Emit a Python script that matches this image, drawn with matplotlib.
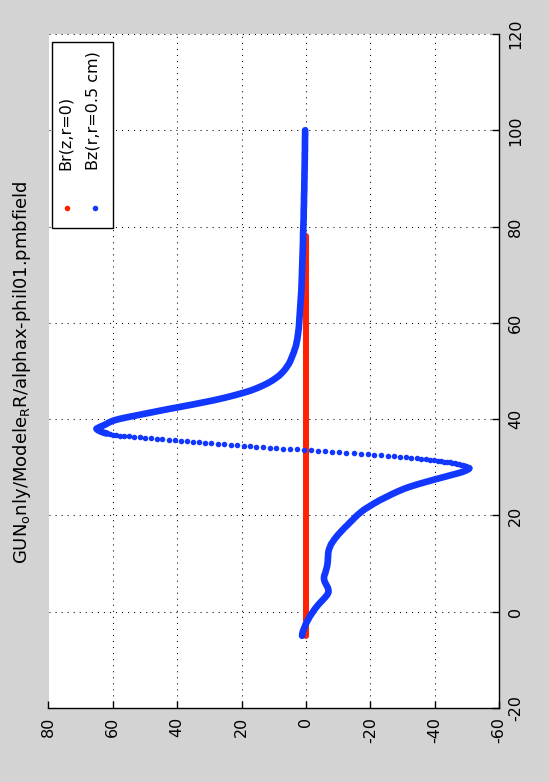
import numpy as np
import matplotlib
matplotlib.use("Agg")
import matplotlib.pyplot as plt
from matplotlib.patches import Rectangle
from matplotlib.lines import Line2D

# Br(z, r=0): zero along the axis
br_z = list(range(-5, 79))
br_val = [0.0] * len(br_z)

# Bz(r, r=0.5 cm) read along z, denser where the field changes fast
bz_z_a = [-5.0, -4.5, -4.0, -3.5, -3.0, -2.5, -2.0, -1.5, -1.0, -0.5,
          0.0, 0.5, 1.0, 1.5, 2.0, 2.5, 3.0, 3.5, 4.0, 4.5,
          5.0, 5.5, 6.0, 6.5, 7.0, 7.5, 8.0, 8.5, 9.0, 9.5,
          10.0, 10.5, 11.0, 11.5, 12.0, 12.5, 13.0, 13.5, 14.0, 14.5,
          15.0, 15.5, 16.0, 16.5, 17.0, 17.5, 18.0, 18.5, 19.0, 19.5, 20.0]
bz_a = [1.2, 1.1, 0.9, 0.6, 0.3, 0.0, -0.4, -0.8, -1.2, -1.7,
        -2.2, -2.7, -3.3, -3.9, -4.6, -5.3, -6.0, -6.6, -7.0, -7.0,
        -6.8, -6.4, -6.0, -5.7, -5.6, -5.7, -6.0, -6.2, -6.4, -6.6,
        -6.7, -6.8, -6.8, -6.9, -6.9, -7.0, -7.2, -7.5, -7.8, -8.3,
        -8.8, -9.4, -10.0, -10.7, -11.4, -12.1, -12.9, -13.6, -14.4, -15.1, -15.9]

bz_z_b = [20.25, 20.5, 20.75, 21.0, 21.25, 21.5, 21.75, 22.0, 22.25, 22.5,
          22.75, 23.0, 23.25, 23.5, 23.75, 24.0, 24.25, 24.5, 24.75, 25.0,
          25.25, 25.5, 25.75, 26.0, 26.25, 26.5, 26.75, 27.0, 27.25, 27.5,
          27.75, 28.0, 28.25, 28.5, 28.75, 29.0, 29.25, 29.5, 29.6, 29.7, 29.8]
bz_b = [-16.3, -16.8, -17.2, -17.7, -18.2, -18.8, -19.4, -20.0, -20.6, -21.2,
        -21.9, -22.5, -23.2, -24.0, -24.7, -25.5, -26.2, -27.0, -27.8, -28.6,
        -29.5, -30.4, -31.4, -32.5, -33.7, -34.9, -36.2, -37.5, -38.9, -40.2,
        -41.6, -43.0, -44.4, -45.8, -47.2, -48.5, -49.5, -50.2, -50.5, -50.7, -50.8]

# fast swing through zero: samples stand apart here
bz_z_c = [29.9, 30.0, 30.1, 30.2, 30.3, 30.4, 30.5,
          30.6, 30.7, 30.8, 30.9, 31.0, 31.1, 31.2, 31.3, 31.4, 31.5,
          31.6, 31.7, 31.8, 31.9, 32.0, 32.1, 32.2, 32.3, 32.4, 32.5,
          32.6, 32.7, 32.8, 32.9, 33.0, 33.1, 33.2, 33.3, 33.4, 33.5,
          33.6, 33.7, 33.8, 33.9, 34.0, 34.1, 34.2, 34.3, 34.4, 34.5,
          34.6, 34.7, 34.8, 34.9, 35.0, 35.1, 35.2, 35.3, 35.4, 35.5,
          35.6, 35.7, 35.8, 35.9, 36.0, 36.1, 36.2, 36.3, 36.4, 36.5,
          36.6, 36.7, 36.8, 36.9]
bz_c = [-50.7, -50.5, -50.2, -49.8, -49.3, -48.8, -48.2,
        -47.6, -46.9, -46.2, -45.5, -44.7, -43.9, -43.0, -42.0, -40.9, -39.8,
        -38.6, -37.3, -35.9, -34.4, -32.8, -31.1, -29.3, -27.4, -25.4, -23.4,
        -21.3, -19.2, -17.0, -14.8, -12.6, -10.4, -8.2, -6.0, -3.8, -1.6,
        0.6, 2.8, 5.0, 7.1, 9.2, 11.3, 13.4, 15.4, 17.4, 19.4,
        21.4, 23.4, 25.4, 27.4, 29.4, 31.3, 33.2, 35.1, 37.0, 38.9,
        40.8, 42.7, 44.6, 46.4, 48.2, 50.0, 51.7, 53.4, 55.0, 56.5,
        57.9, 59.1, 60.1, 61.0]

bz_z_d = [37.0, 37.1, 37.2, 37.3, 37.4, 37.5, 37.6, 37.7, 37.8, 37.9, 38.0,
          38.2, 38.4, 38.6, 38.8, 39.0, 39.2, 39.4, 39.6, 39.8, 40.0,
          40.2, 40.4, 40.6, 40.8, 41.0, 41.2, 41.4, 41.6, 41.8, 42.0,
          42.2, 42.4, 42.6, 42.8, 43.0, 43.2, 43.4, 43.6, 43.8, 44.0,
          44.2, 44.4, 44.6, 44.8, 45.0, 45.2, 45.4, 45.6, 45.8, 46.0]
bz_d = [61.8, 62.4, 62.9, 63.3, 63.7, 64.0, 64.3, 64.6, 64.8, 65.0, 65.1,
        64.6, 64.0, 63.3, 62.6, 62.0, 61.5, 60.9, 60.2, 59.3, 58.2,
        56.9, 55.5, 54.0, 52.5, 51.0, 49.5, 48.0, 46.5, 45.0, 43.5,
        41.9, 40.3, 38.7, 37.1, 35.5, 34.0, 32.5, 31.0, 29.5, 28.1,
        26.8, 25.5, 24.3, 23.1, 22.0, 20.9, 19.8, 18.8, 17.8, 16.9]

bz_z_e = [46.5, 47.0, 47.5, 48.0, 48.5, 49.0, 49.5, 50.0, 50.5, 51.0,
          51.5, 52.0, 52.5, 53.0, 53.5, 54.0, 54.5, 55.0, 55.5, 56.0,
          56.5, 57.0, 57.5, 58.0, 58.5, 59.0, 59.5, 60.0]
bz_e = [15.0, 13.3, 11.8, 10.5, 9.4, 8.4, 7.6, 6.9, 6.3, 5.8,
        5.3, 4.9, 4.6, 4.3, 4.0, 3.7, 3.5, 3.2, 3.0, 2.9,
        2.7, 2.6, 2.5, 2.4, 2.3, 2.2, 2.15, 2.1]

bz_z_f = [61, 62, 63, 64, 65, 66, 67, 68, 69, 70,
          71, 72, 73, 74, 75, 76, 77, 78, 79, 80,
          81, 82, 83, 84, 85, 86, 87, 88, 89, 90,
          91, 92, 93, 94, 95, 96, 97, 98, 99, 100]
bz_f = [2.0, 1.9, 1.8, 1.7, 1.6, 1.5, 1.4, 1.35, 1.3, 1.25,
        1.2, 1.15, 1.1, 1.05, 1.0, 0.95, 0.9, 0.9, 0.85, 0.8,
        0.75, 0.7, 0.7, 0.65, 0.6, 0.6, 0.55, 0.5, 0.5, 0.45,
        0.45, 0.4, 0.4, 0.35, 0.35, 0.3, 0.3, 0.3, 0.25, 0.25]

b_ticks = [-60, -40, -20, 0, 20, 40, 60, 80]
z_ticks = [-20, 0, 20, 40, 60, 80, 100, 120]
title = r"GUN$_{\mathrm{o}}$nly/Modele$_{\mathrm{R}}$R/alphax-phil01.pmbfield"

RED = '#ff2200'
BLUE = '#1238ff'

plt.rcParams['font.family'] = ['DejaVu Sans']
plt.rcParams['mathtext.fontset'] = 'dejavusans'
plt.rcParams['axes.unicode_minus'] = False

W, H = 549, 782
fig = plt.figure(figsize=(W / 100, H / 100), dpi=100, facecolor='#d3d3d3')
# plot is drawn turned on its side: z runs upward, B runs right-to-left
ax = fig.add_axes([48.5 / W, 1 - 708 / H, 450.5 / W, 674 / H])
ax.set_facecolor('white')

# densely sampled dots merge into a thick trace
dense = dict(solid_capstyle='round', solid_joinstyle='round', zorder=4)
ax.plot(br_val, br_z, '-', color=RED, lw=4.3, **dict(dense, zorder=3))
ax.plot(bz_a + bz_b, bz_z_a + bz_z_b, '-', color=BLUE, lw=4.8, **dense)
ax.plot(bz_c, bz_z_c, 'o', color=BLUE, ms=4.0, mec='none', zorder=4)
ax.plot(bz_d + bz_e + bz_f, bz_z_d + bz_z_e + bz_z_f, '-', color=BLUE,
        lw=4.8, **dense)

ax.set_xlim(80, -60)
ax.set_ylim(-20, 120)
ax.set_xticks(b_ticks)
ax.set_yticks(z_ticks)
ax.yaxis.tick_right()
ax.tick_params(axis='both', direction='in', length=5, width=1.0,
               labelsize=11.5, colors='black')
ax.tick_params(axis='x', pad=6.5, labelrotation=90)
ax.tick_params(axis='y', pad=6.5, labelrotation=90)
for lab in ax.get_yticklabels():
    lab.set_va('center')

ax.spines['top'].set_visible(False)
ax.spines['left'].set_visible(False)
ax.spines['right'].set_linewidth(1.0)
ax.spines['bottom'].set_linewidth(1.0)
ax.grid(True, color='black', linestyle=(0, (1, 4.8)), linewidth=0.75)
ax.set_axisbelow(True)

fig.text(22 / W, 1 - 372 / H, title, rotation=90, ha='center', va='center',
         fontsize=13)

# legend box, turned with the rest of the plot
fig.patches.append(Rectangle((51.7 / W, 1 - 228 / H), 61 / W, 186.3 / H,
                             transform=fig.transFigure, facecolor='white',
                             edgecolor='black', linewidth=1.0, zorder=5))
fig.lines.append(Line2D([67 / W], [1 - 208 / H], transform=fig.transFigure,
                        marker='o', color=RED, ms=4.0, mec='none', zorder=6))
fig.lines.append(Line2D([95 / W], [1 - 208 / H], transform=fig.transFigure,
                        marker='o', color=BLUE, ms=4.0, mec='none', zorder=6))
fig.text(65 / W, 1 - 170 / H, 'Br(z,r=0)', rotation=90, ha='center',
         va='bottom', fontsize=11.5, zorder=7)
fig.text(93 / W, 1 - 170 / H, 'Bz(r,r=0.5 cm)', rotation=90, ha='center',
         va='bottom', fontsize=11.5, zorder=7)

fig.savefig('out.png', dpi=100, facecolor=fig.get_facecolor())
